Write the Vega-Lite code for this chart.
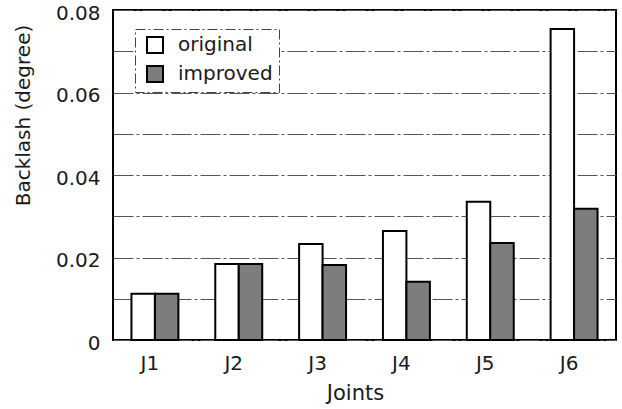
{
  "$schema": "https://vega.github.io/schema/vega-lite/v6.json",
  "width": 503,
  "height": 330,
  "autosize": "none",
  "padding": {"left": 113, "top": 10, "right": 6, "bottom": 69},
  "background": "white",
  "config": {
    "font": "DejaVu Sans",
    "view": {"stroke": "black", "strokeWidth": 2},
    "axis": {"labelColor": "#1a1a1a", "titleColor": "#1a1a1a", "titleFontWeight": "normal"}
  },
  "data": {
    "values": [
      {"joint": "J1", "type": "original", "value": 0.0112},
      {"joint": "J1", "type": "improved", "value": 0.0112},
      {"joint": "J2", "type": "original", "value": 0.0184},
      {"joint": "J2", "type": "improved", "value": 0.0184},
      {"joint": "J3", "type": "original", "value": 0.0233},
      {"joint": "J3", "type": "improved", "value": 0.0182},
      {"joint": "J4", "type": "original", "value": 0.0264},
      {"joint": "J4", "type": "improved", "value": 0.0141},
      {"joint": "J5", "type": "original", "value": 0.0335},
      {"joint": "J5", "type": "improved", "value": 0.0235},
      {"joint": "J6", "type": "original", "value": 0.0754},
      {"joint": "J6", "type": "improved", "value": 0.0318}
    ]
  },
  "mark": {"type": "bar", "stroke": "black", "strokeWidth": 2},
  "encoding": {
    "x": {
      "field": "joint",
      "type": "nominal",
      "scale": {"paddingInner": 0.44, "paddingOuter": 0.22},
      "axis": {
        "title": "Joints",
        "labelAngle": 0,
        "ticks": false,
        "domain": false,
        "labelFontSize": 20,
        "labelPadding": 13,
        "labelOffset": -5,
        "titleFontSize": 21,
        "titlePadding": 9,
        "titleX": 242
      }
    },
    "xOffset": {"field": "type", "type": "nominal", "sort": ["original", "improved"]},
    "y": {
      "field": "value",
      "type": "quantitative",
      "scale": {"domain": [0, 0.08], "nice": false},
      "axis": {
        "title": "Backlash (degree)",
        "values": [0, 0.01, 0.02, 0.03, 0.04, 0.05, 0.06, 0.07, 0.08],
        "labelExpr": "round(datum.value*100) % 2 == 0 ? (datum.value == 0 ? '0' : format(datum.value, '.2f')) : ''",
        "ticks": false,
        "domain": false,
        "grid": true,
        "gridColor": "#555",
        "gridWidth": 1,
        "gridDash": [20, 3, 3, 3],
        "labelFontSize": 20,
        "labelPadding": 13,
        "labelOffset": 3,
        "titleFontSize": 20,
        "titlePadding": 22,
        "titleY": 105
      }
    },
    "fill": {
      "field": "type",
      "type": "nominal",
      "sort": ["original", "improved"],
      "scale": {"domain": ["original", "improved"], "range": ["white", "#7d7d7d"]},
      "legend": {
        "title": null,
        "orient": "none",
        "legendX": 22,
        "legendY": 19,
        "symbolType": "square",
        "symbolSize": 256,
        "symbolStrokeColor": "black",
        "symbolStrokeWidth": 2,
        "labelFontSize": 20,
        "labelColor": "#1a1a1a",
        "labelOffset": 17,
        "rowPadding": 5,
        "padding": 6,
        "strokeColor": "#444",
        "fillColor": "white",
        "encode": {
          "legend": {"update": {"strokeDash": {"value": [10, 3, 2, 3]}}},
          "symbols": {"update": {"xc": {"value": 14}}}
        }
      }
    }
  }
}
